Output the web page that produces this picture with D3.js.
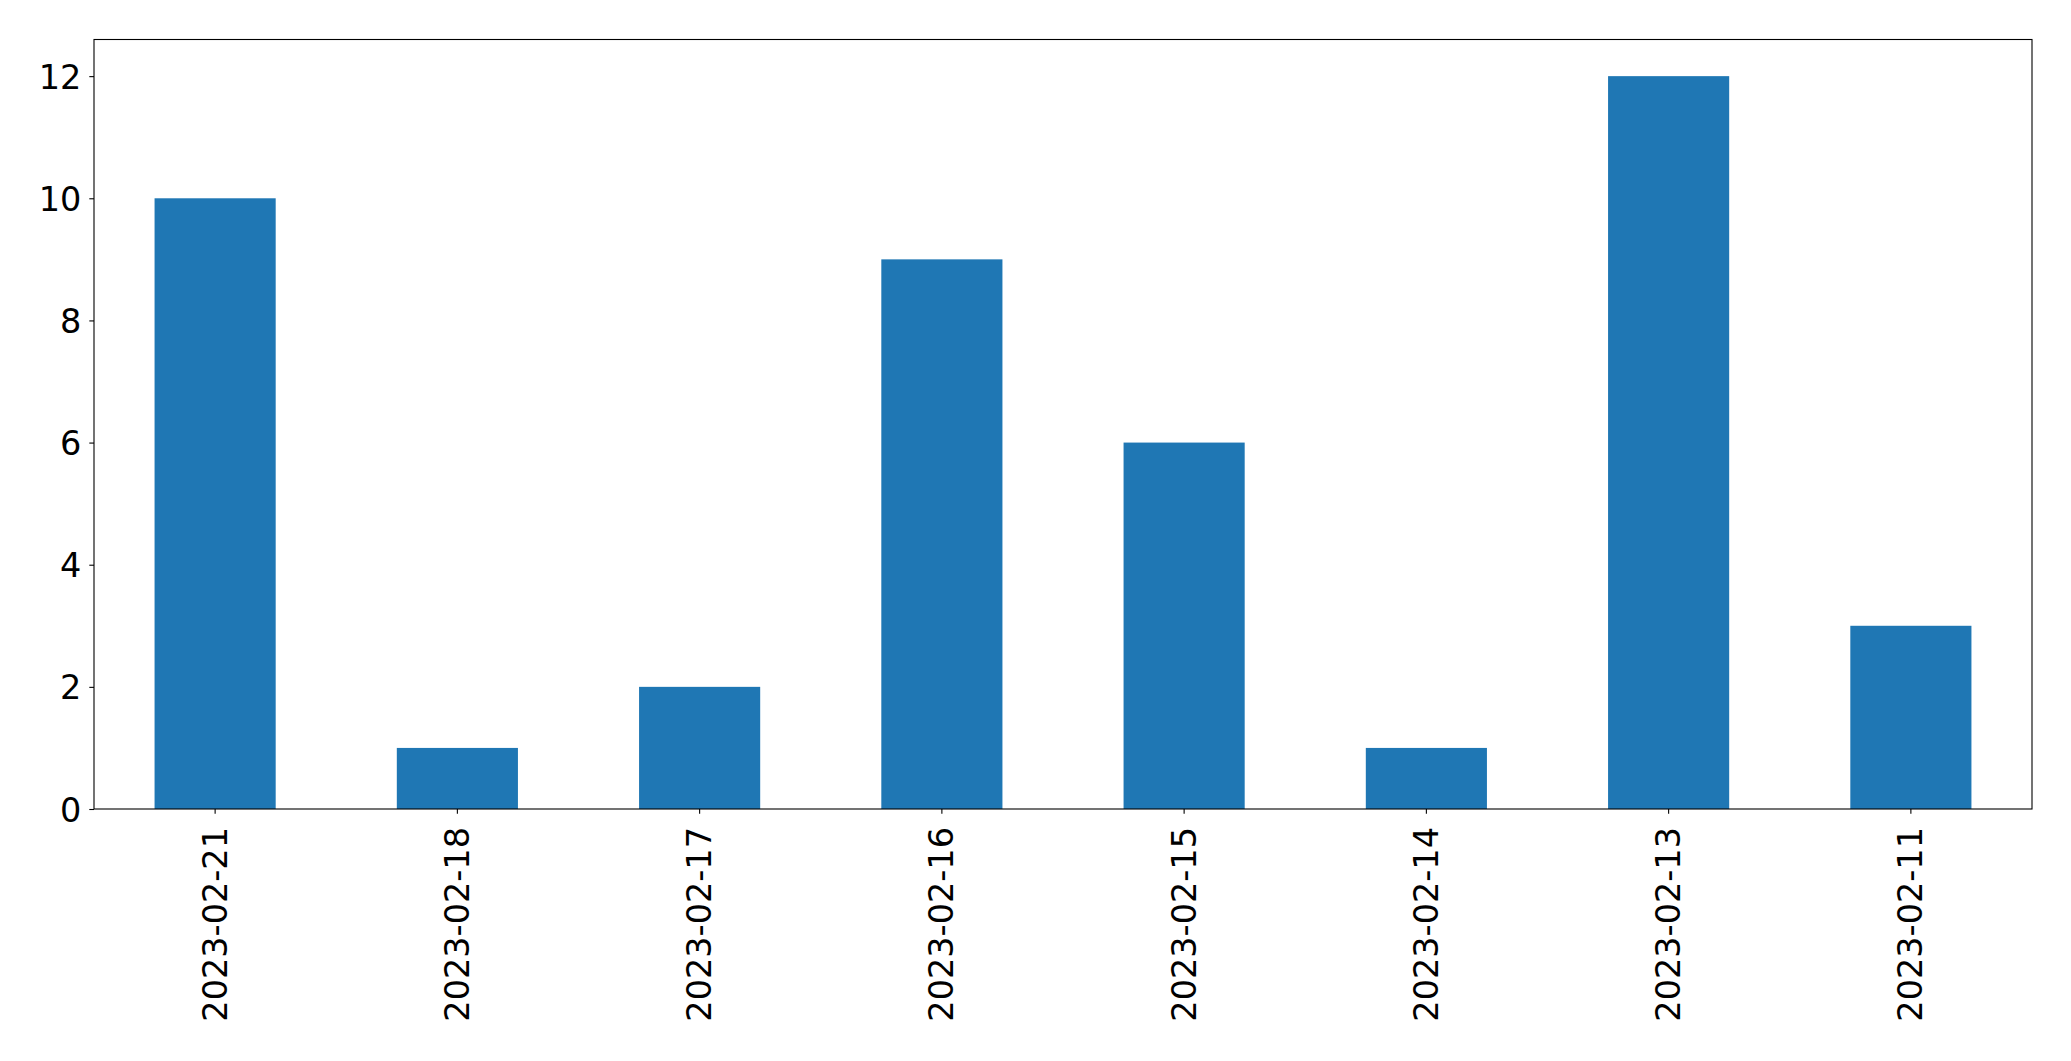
<!DOCTYPE html>
<html>
<head>
<meta charset="utf-8">
<script src="https://cdn.jsdelivr.net/npm/d3@7"></script>
<style>
  html, body { margin: 0; padding: 0; background: #fff; }
  svg { display: block; }
  text { font-family: "DejaVu Sans", sans-serif; fill: #000; }
</style>
</head>
<body>
<script>
const categories = ["2023-02-21", "2023-02-18", "2023-02-17", "2023-02-16", "2023-02-15", "2023-02-14", "2023-02-13", "2023-02-11"];
const values = [10, 1, 2, 9, 6, 1, 12, 3];
const yTicks = [0, 2, 4, 6, 8, 10, 12];

const W = 2071, H = 1061;
const margin = { left: 94, right: W - 2032, top: 39.5, bottom: H - 809 };
const fontSize = 33.5;

const svg = d3.select("body").append("svg").attr("width", W).attr("height", H);

const x = d3.scaleBand().domain(categories).range([margin.left, W - margin.right]).paddingInner(0.5).paddingOuter(0.25);
const y = d3.scaleLinear().domain([0, 12.6]).range([H - margin.bottom, margin.top]);

svg.append("g").selectAll("rect").data(values).join("rect")
  .attr("x", (d, i) => x(categories[i]))
  .attr("y", d => y(d))
  .attr("width", x.bandwidth())
  .attr("height", d => y(0) - y(d))
  .attr("fill", "#1f77b4");

// frame
svg.append("rect")
  .attr("x", margin.left).attr("y", margin.top)
  .attr("width", W - margin.right - margin.left)
  .attr("height", H - margin.bottom - margin.top)
  .attr("fill", "none").attr("stroke", "#000").attr("stroke-width", 1.1);

const yAxis = svg.append("g").attr("transform", `translate(${margin.left},0)`)
  .call(d3.axisLeft(y).tickValues(yTicks).tickSize(4.7).tickPadding(8).tickFormat(d3.format("d")));
yAxis.select(".domain").remove();
yAxis.selectAll("line").attr("stroke", "#000").attr("stroke-width", 1.1);
yAxis.selectAll("text").attr("font-size", fontSize).attr("font-family", "DejaVu Sans").attr("dy", "0.36em");

const xAxis = svg.append("g").attr("transform", `translate(0,${H - margin.bottom})`)
  .call(d3.axisBottom(x).tickSize(4.7).tickPadding(0));
xAxis.select(".domain").remove();
xAxis.selectAll("line").attr("stroke", "#000").attr("stroke-width", 1.1);
xAxis.selectAll("text")
  .attr("font-size", fontSize).attr("font-family", "DejaVu Sans")
  .attr("text-anchor", "end")
  .attr("dy", null)
  .attr("dominant-baseline", "central")
  .attr("transform", "translate(0,18) rotate(-90)")
  .attr("y", 0).attr("x", 0);
</script>
</body>
</html>
